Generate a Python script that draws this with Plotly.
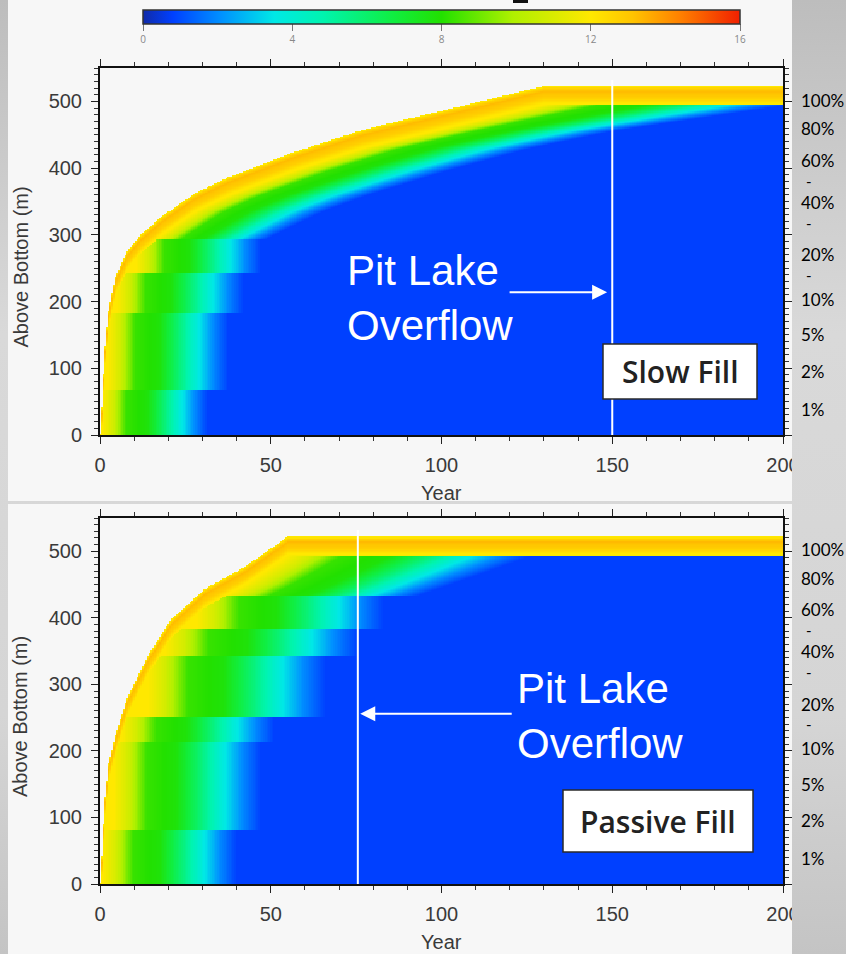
import base64
import numpy as np
import plotly.graph_objects as go

W, H = 846, 954

# ---------------- data ----------------
cbar_ticks = [0, 4, 8, 12, 16]
year_ticks = [0, 50, 100, 150, 200]
elev_ticks = [0, 100, 200, 300, 400, 500]

# Slow fill: lake surface (m above bottom) by year
slow_years = [0, 0.5, 1.0, 1.5, 2.4, 4.4, 8.2, 12, 18, 27.8, 37.5, 57, 76.7, 101, 130, 200]
slow_surface = [0, 40, 90, 132, 183, 236, 277, 300, 327, 362, 386, 424, 457, 487, 523, 523]
slow_layer_tops = [67, 183, 242, 292]           # mixed layers near the bottom
slow_layer_clear = [31.5, 37.5, 42, 47]         # year each layer turns clear
slow_band_z = [292, 390, 455, 495]
slow_band_stretch = [0.8, 1.1, 1.3, 1.8]
slow_overflow = 150

# Passive fill
passive_years = [0, 0.5, 0.9, 1.5, 2.5, 4.4, 8.2, 14, 21, 30.7, 42.5, 55, 200]
passive_surface = [0, 40, 80, 131, 180, 221, 282, 342, 398, 443, 477, 522, 522]
passive_layer_tops = [81, 212, 251, 342, 383, 432]
passive_layer_clear = [40, 47, 51, 66, 75.5, 83]
passive_band_z = [432, 450, 495]
passive_band_stretch = [1.4, 1.5, 1.8]
passive_overflow = 75.5

# concentration against years since a parcel left the mixed surface layer
age_pts = [0, 4, 9, 17, 23, 29, 35, 40]
conc_pts = [12.0, 10.8, 8.3, 7.8, 6.0, 4.0, 2.0, 0.8]
AGE_CLEAR = 40.0
SURF_DEPTH = 28.0
surf_depth_pts = [0, 3, 8, 18, 28]
surf_conc_pts = [11.3, 12.6, 13.3, 12.8, 11.8]

pct_labels = ["100%", "80%", "60%", "40%", "20%", "10%", "5%", "2%", "1%"]
pct_elev = [502, 459, 412, 349, 270, 203, 150, 95, 38]
dash_elev = [381, 318, 240]

grid_years = np.arange(0, 200.25, 0.5)
grid_elev = np.arange(0, 552, 2.0)


def reach_time(level, years, surface):
    yrs = np.asarray(years, float)
    srf = np.asarray(surface, float)
    top = srf.max()
    k = int(np.argmax(srf >= top))
    out = np.interp(level, srf[:k + 1], yrs[:k + 1])
    return np.where(np.asarray(level) > top, np.inf, out)


def concentration(years, surface, tops, clear, band_z, band_s):
    S = np.interp(grid_years, years, surface)[None, :]
    t = grid_years[None, :]
    z = grid_elev[:, None]
    depth = S - z
    tops_a = np.asarray(tops, float)
    clear_a = np.asarray(clear, float)
    idx = np.searchsorted(tops_a, grid_elev)
    layered = idx < len(tops_a)
    safe = np.minimum(idx, len(tops_a) - 1)
    # a mixed layer starts ageing once the surface has covered its top
    t_lay = reach_time(tops_a[safe], years, surface)
    tau_lay = (clear_a[safe] - t_lay) / AGE_CLEAR
    # above the layers, water ages once it sinks below the surface layer
    t_band = reach_time(grid_elev + SURF_DEPTH, years, surface)
    tau_band = np.interp(grid_elev, band_z, band_s)
    t_iso = np.where(layered, t_lay, t_band)[:, None]
    tau = np.where(layered, tau_lay, tau_band)[:, None]
    with np.errstate(invalid="ignore"):
        age = (t - t_iso) / tau
    age = np.where(np.isfinite(age), age, -1.0)
    deep = np.interp(age, age_pts, conc_pts)
    surf = np.interp(depth, surf_depth_pts, surf_conc_pts)
    C = np.where(depth <= SURF_DEPTH, np.maximum(surf, deep), deep)
    return np.where(depth < 0, np.nan, C)


colorscale = [
    [0.00, "#102aa8"], [0.05, "#0040ff"], [0.13, "#0090ff"], [0.22, "#00e8e6"],
    [0.30, "#00f4b0"], [0.42, "#10ee40"], [0.50, "#22e000"], [0.62, "#b0f000"],
    [0.75, "#ffe800"], [0.82, "#ffc400"], [0.90, "#ff8000"], [1.00, "#f02000"],
]


def fx(p):
    return p / W


def fy(p):
    return 1 - p / H


panels = [
    dict(years=slow_years, surface=slow_surface, tops=slow_layer_tops, clear=slow_layer_clear,
         bz=slow_band_z, bs=slow_band_stretch, overflow=slow_overflow,
         xa="x", ya="y", top=68, bottom=435, label="Slow Fill",
         box=(603, 344, 757, 399), text_xy=(345, 298),
         arrow=(148.5, 214, 119.5)),
    dict(years=passive_years, surface=passive_surface, tops=passive_layer_tops,
         clear=passive_layer_clear, bz=passive_band_z, bs=passive_band_stretch,
         overflow=passive_overflow, xa="x2", ya="y2", top=518, bottom=884,
         label="Passive Fill", box=(563, 790, 753, 852), text_xy=(515, 716),
         arrow=(76.2, 256, 121)),
]

fig = go.Figure()
axis_font = dict(family="Liberation Sans, Arial, sans-serif", size=20, color="#3a3a3a")
shapes, annotations = [], []


def note(**kw):
    kw.setdefault("xanchor", "center")
    kw.setdefault("yanchor", "middle")
    kw.setdefault("showarrow", False)
    annotations.append(kw)


for i, p in enumerate(panels):
    C = concentration(p["years"], p["surface"], p["tops"], p["clear"], p["bz"], p["bs"])
    hm = go.Heatmap(
        x=grid_years, y=grid_elev, z=C, colorscale=colorscale, zmin=0, zmax=16,
        zsmooth=False, xaxis=p["xa"], yaxis=p["ya"], hoverinfo="skip",
        showscale=(i == 0),
    )
    if i == 0:
        hm.colorbar = dict(
            orientation="h", x=fx(441.5), xanchor="center", y=fy(10), yanchor="top",
            len=597 / W, lenmode="fraction", thickness=14, thicknessmode="pixels",
            xpad=0, ypad=0, outlinecolor="#333", outlinewidth=1.5,
            tickvals=cbar_ticks, ticks="outside", ticklen=7, tickcolor="#777",
            tickfont=dict(size=10, color="#888"),
        )
    fig.add_trace(hm)

    xname = "xaxis" if i == 0 else "xaxis2"
    yname = "yaxis" if i == 0 else "yaxis2"
    fig.layout[xname] = dict(
        domain=[fx(100), fx(783)], anchor=p["ya"], range=[0, 200], tickvals=year_ticks,
        ticks="outside", ticklen=7, tickwidth=1.2, tickcolor="#222", showline=True,
        linecolor="#111", linewidth=2, mirror="allticks", showgrid=False, zeroline=False,
        tickfont=axis_font, ticklabelstandoff=4,
        minor=dict(dtick=10, ticks="outside", ticklen=4, tickcolor="#333", showgrid=False),
    )
    fig.layout[yname] = dict(
        domain=[fy(p["bottom"]), fy(p["top"])], anchor=p["xa"], range=[0, 550],
        tickvals=elev_ticks, ticks="outside", ticklen=7, tickwidth=1.2, tickcolor="#222",
        showline=True, linecolor="#111", linewidth=2, mirror="allticks", showgrid=False,
        zeroline=False, tickfont=axis_font, ticklabelstandoff=5,
        minor=dict(dtick=10, ticks="outside", ticklen=4, tickcolor="#333", showgrid=False),
    )

    # overflow year
    shapes.append(dict(type="line", xref=p["xa"], yref=p["ya"], x0=p["overflow"],
                       x1=p["overflow"], y0=0, y1=532, line=dict(color="white", width=2)))
    # scenario box
    x0, y0, x1, y1 = p["box"]
    shapes.append(dict(type="rect", xref="paper", yref="paper", x0=fx(x0), x1=fx(x1),
                       y0=fy(y1), y1=fy(y0), fillcolor="white",
                       line=dict(color="#2a2a2a", width=1.5)))
    note(xref="paper", yref="paper", x=fx((x0 + x1) / 2), y=fy((y0 + y1) / 2),
         text=p["label"],
         font=dict(family="Open Sans", size=30, color="#222", weight=600))
    # overflow label and arrow
    tx, ty = p["text_xy"]
    note(xref="paper", yref="paper", x=fx(tx), y=fy(ty), xanchor="left", align="left",
         text="Pit Lake<br>Overflow",
         font=dict(family="Liberation Sans, Arial", size=42, color="white"))
    hx, hy, tailx = p["arrow"]
    annotations.append(dict(xref=p["xa"], yref=p["ya"], x=hx, y=hy, axref=p["xa"],
                            ayref=p["ya"], ax=tailx, ay=hy, text="", showarrow=True,
                            arrowhead=2, arrowsize=1.5, arrowwidth=2, arrowcolor="white",
                            standoff=0))
    # axis titles
    note(xref="paper", yref="paper", x=fx(441), y=fy(p["bottom"] + 58), text="Year",
         font=axis_font)
    note(xref="paper", yref="paper", x=fx(20), y=fy((p["top"] + p["bottom"]) / 2 + 16),
         text="Above Bottom (m)", textangle=-90, font=axis_font)
    # volume percentages on the right
    for lab, e in zip(pct_labels, pct_elev):
        note(xref="paper", yref=p["ya"], x=fx(799), y=e, xanchor="left", text=lab,
             font=dict(family="Lato", size=17, color="#000"))
    for e in dash_elev:
        note(xref="paper", yref=p["ya"], x=fx(804), y=e, xanchor="left", text="-",
             font=dict(family="Lato", size=15, color="#000"))

# panel backgrounds
shapes.insert(0, dict(type="rect", xref="paper", yref="paper", layer="below",
                      x0=fx(8), x1=fx(792), y0=fy(501), y1=1, fillcolor="#f7f7f7",
                      line=dict(width=0)))
shapes.insert(1, dict(type="rect", xref="paper", yref="paper", layer="below",
                      x0=fx(8), x1=fx(792), y0=0, y1=fy(504), fillcolor="#f7f7f7",
                      line=dict(width=0)))
shapes.append(dict(type="rect", xref="paper", yref="paper", x0=fx(513), x1=fx(528),
                   y0=fy(3), y1=1, fillcolor="#111", line=dict(width=0)))


def gradient_svg(width):
    svg = (
        f'<svg xmlns="http://www.w3.org/2000/svg" width="{width}" height="{H}">'
        '<defs><linearGradient id="g" x1="0" y1="0" x2="0" y2="1">'
        '<stop offset="0" stop-color="#bdbdbd"/><stop offset="0.35" stop-color="#d9d9d9"/>'
        '<stop offset="0.75" stop-color="#d5d5d5"/><stop offset="1" stop-color="#c4c4c4"/>'
        '</linearGradient></defs>'
        f'<rect width="{width}" height="{H}" fill="url(#g)"/></svg>'
    )
    return "data:image/svg+xml;base64," + base64.b64encode(svg.encode()).decode()


images = [
    dict(source=gradient_svg(W), xref="paper", yref="paper", x=0, y=1, sizex=1, sizey=1,
         sizing="stretch", layer="below", xanchor="left", yanchor="top"),
    dict(source=gradient_svg(54), xref="paper", yref="paper", x=fx(792), y=1,
         sizex=54 / W, sizey=1, sizing="stretch", layer="above", xanchor="left",
         yanchor="top"),
]

fig.update_layout(
    width=W, height=H, margin=dict(l=0, r=0, t=0, b=0, pad=0, autoexpand=False),
    paper_bgcolor="#cfcfcf", plot_bgcolor="#f6f6f6",
    shapes=shapes, annotations=annotations, images=images, showlegend=False,
)

fig.write_html("out.html", config={"displayModeBar": False})
